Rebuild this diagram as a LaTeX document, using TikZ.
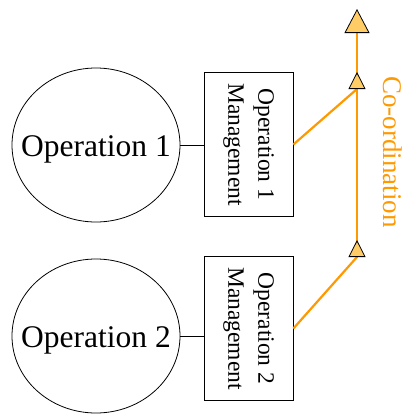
\documentclass[tikz,border=0pt]{standalone}
\usepackage{fontspec}
\setmainfont{Liberation Serif}
\usetikzlibrary{shapes,arrows.meta}

\definecolor{coordorange}{HTML}{FF9900}
\definecolor{coordfill}{HTML}{FFCC66}

\tikzset{
  opnode/.style={shape=ellipse,draw=black,line width=0.8pt,minimum width=168pt,minimum height=154pt,inner sep=0pt},
  optext/.style={font=\fontsize{31.5}{36}\selectfont,inner sep=0pt,yshift=-4pt},
  mgmtnode/.style={shape=rectangle,draw=black,align=center,line width=0.8pt,rotate=-90,minimum width=144pt,minimum height=89pt,inner sep=0pt,font=\fontsize{23.5}{30}\selectfont},
  link/.style={-,draw=black,line width=0.8pt},
  coordline/.style={-,draw=coordorange,line width=2.2pt},
  bigtip/.style={-{Triangle[length=24pt,width=25pt,fill=coordfill,color=black,line width=0.8pt]}},
  smalltip/.style={-{Triangle[length=17pt,width=17pt,fill=coordfill,color=black,line width=0.8pt]}}
}

\begin{document}
\begin{tikzpicture}[x=1pt,y=-1pt]
\useasboundingbox (0,0) rectangle (410,416);
\node[opnode,label={[optext]center:Operation 1}] (0) at (96,145) {};
\node[opnode,label={[optext]center:Operation 2}] (1) at (96,336) {};
\node[mgmtnode] (2) at (248.5,144.5) {Operation 1\\Management};
\node[mgmtnode] (3) at (248.5,328.5) {Operation 2\\Management};
\coordinate (4) at (357,89);
\coordinate (5) at (357,257);
\coordinate (6) at (357,9);
\coordinate (7) at (357,72);
\coordinate (8) at (357,240);
\node[rotate=-90,text=coordorange,font=\fontsize{27}{32}\selectfont] (9) at (393,152) {Co-ordination};

\path [link] (0) edge node {} (0 -| 2.south);
\path [link] (1) edge node {} (1 -| 3.south);
\path [coordline] (2.north) edge node {} (4);
\path [coordline] (3.north) edge node {} (5);
\draw [coordline,bigtip] (5) -- (6);
\draw [coordline,smalltip] (4) -- (7);
\draw [coordline,smalltip] (5) -- (8);
\end{tikzpicture}
\end{document}
